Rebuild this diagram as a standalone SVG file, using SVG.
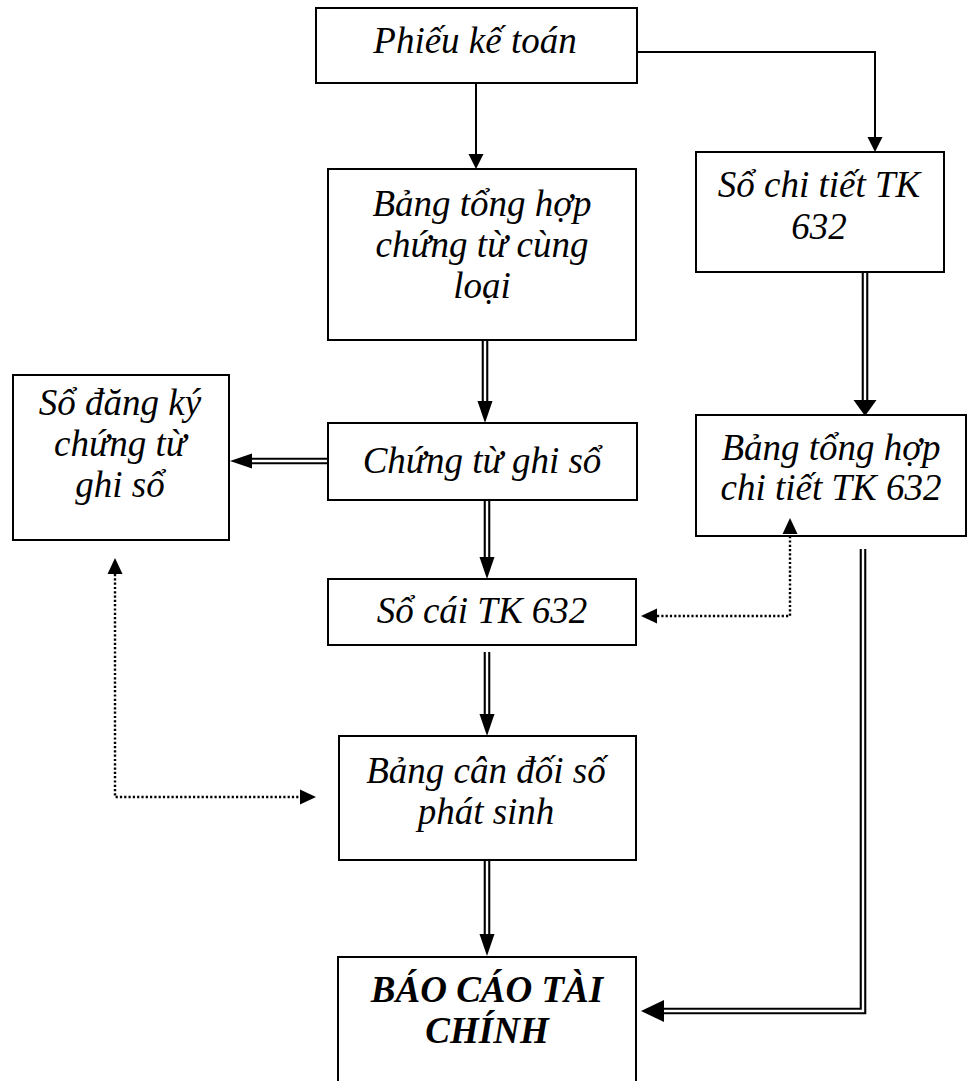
<svg xmlns="http://www.w3.org/2000/svg" width="970" height="1081" viewBox="0 0 970 1081">
  <style>
    .box { fill: #fff; stroke: #000; stroke-width: 2; }
    .t { font-family: "Liberation Serif", "Times New Roman", serif; font-style: italic; font-size: 37px; fill: #000; text-anchor: middle; }
    .tb { font-weight: bold; }
    .single { fill: none; stroke: #000; stroke-width: 2; }
    .dbl-out { fill: none; stroke: #000; stroke-width: 6.6; stroke-linejoin: miter; }
    .dbl-in { fill: none; stroke: #fff; stroke-width: 2.4; stroke-linejoin: miter; }
    .dot { fill: none; stroke: #000; stroke-width: 2.4; stroke-dasharray: 2.2 2.1; }
  </style>
  <defs>
    <!-- arrowheads: base sits on the path end, tip extends beyond it -->
    <marker id="arrS" markerUnits="userSpaceOnUse" markerWidth="16" markerHeight="16" refX="0" refY="7.5" orient="auto-start-reverse" overflow="visible">
      <path d="M0,0 L15,7.5 L0,15 Z" fill="#000"/>
    </marker>
    <marker id="arrD" markerUnits="userSpaceOnUse" markerWidth="23" markerHeight="16" refX="0" refY="7.5" orient="auto" overflow="visible">
      <path d="M0,0 L22,7.5 L0,15 Z" fill="#000"/>
    </marker>
    <marker id="arrW" markerUnits="userSpaceOnUse" markerWidth="17" markerHeight="24" refX="0" refY="11.5" orient="auto" overflow="visible">
      <path d="M0,0 L16,11.5 L0,23 Z" fill="#000"/>
    </marker>
    <marker id="arrL" markerUnits="userSpaceOnUse" markerWidth="24" markerHeight="23" refX="0" refY="11" orient="auto" overflow="visible">
      <path d="M0,0 L23,11 L0,22 Z" fill="#000"/>
    </marker>
    <marker id="arrDot" markerUnits="userSpaceOnUse" markerWidth="17" markerHeight="16" refX="0" refY="7.5" orient="auto-start-reverse" overflow="visible">
      <path d="M0,0 L16,7.5 L0,15 Z" fill="#000"/>
    </marker>
  </defs>

  <!-- nodes -->
  <g id="phieu-ke-toan">
    <rect class="box" x="316" y="8" width="321" height="75"/>
    <text class="t" x="475" y="53">Phiếu kế toán</text>
  </g>
  <g id="bang-tong-hop-chung-tu">
    <rect class="box" x="328" y="169" width="308" height="171"/>
    <text class="t" x="482" y="216">Bảng tổng hợp</text>
    <text class="t" x="482" y="257">chứng từ cùng</text>
    <text class="t" x="482" y="298">loại</text>
  </g>
  <g id="so-chi-tiet">
    <rect class="box" x="696" y="152" width="248" height="120"/>
    <text class="t" x="819" y="197">Sổ chi tiết TK</text>
    <text class="t" x="819" y="239">632</text>
  </g>
  <g id="bang-tong-hop-chi-tiet">
    <rect class="box" x="696" y="415" width="270" height="121"/>
    <text class="t" x="831" y="460">Bảng tổng hợp</text>
    <text class="t" x="831" y="500">chi tiết TK 632</text>
  </g>
  <g id="so-dang-ky">
    <rect class="box" x="13" y="375" width="216" height="165"/>
    <text class="t" x="120" y="415">Sổ đăng ký</text>
    <text class="t" x="120" y="456">chứng từ</text>
    <text class="t" x="120" y="497">ghi sổ</text>
  </g>
  <g id="chung-tu-ghi-so">
    <rect class="box" x="328" y="423" width="309" height="77"/>
    <text class="t" x="482" y="473">Chứng từ ghi sổ</text>
  </g>
  <g id="so-cai">
    <rect class="box" x="328" y="579" width="308" height="66"/>
    <text class="t" x="482" y="623">Sổ cái TK 632</text>
  </g>
  <g id="bang-can-doi">
    <rect class="box" x="339" y="736" width="297" height="124"/>
    <text class="t" x="486" y="783">Bảng cân đối số</text>
    <text class="t" x="486" y="824">phát sinh</text>
  </g>
  <g id="bao-cao-tai-chinh">
    <rect class="box" x="338" y="957" width="298" height="140"/>
    <text class="t tb" x="487" y="1002">BÁO CÁO TÀI</text>
    <text class="t tb" x="487" y="1043">CHÍNH</text>
  </g>

  <!-- connectors -->
  <g id="connectors">
    <!-- single lines -->
    <path class="single" d="M476,83 V154" marker-end="url(#arrS)"/>
    <path class="single" d="M637,52 H875 V137" marker-end="url(#arrS)"/>

    <!-- double lines: black core with a white centre stripe -->
    <path class="dbl-out" d="M485,341 V401" marker-end="url(#arrD)"/>
    <path class="dbl-in" d="M485,341 V401"/>

    <path class="dbl-out" d="M327,461 H252" marker-end="url(#arrD)"/>
    <path class="dbl-in" d="M327,461 H252"/>

    <path class="dbl-out" d="M487,501 V557" marker-end="url(#arrD)"/>
    <path class="dbl-in" d="M487,501 V557"/>

    <path class="dbl-out" d="M487,652 V714" marker-end="url(#arrD)"/>
    <path class="dbl-in" d="M487,652 V714"/>

    <path class="dbl-out" d="M487,861 V934" marker-end="url(#arrD)"/>
    <path class="dbl-in" d="M487,861 V934"/>

    <path class="dbl-out" d="M865,273 V400" marker-end="url(#arrW)"/>
    <path class="dbl-in" d="M865,273 V400"/>

    <path class="dbl-out" d="M863,549 V1011 H664" marker-end="url(#arrL)"/>
    <path class="dbl-in" d="M863,549 V1011 H664"/>

    <!-- dotted cross-check links -->
    <path class="dot" d="M657,616 H790 V534" marker-start="url(#arrDot)" marker-end="url(#arrDot)"/>
    <path class="dot" d="M115,574 V797 H300" marker-start="url(#arrDot)" marker-end="url(#arrDot)"/>
  </g>
</svg>
